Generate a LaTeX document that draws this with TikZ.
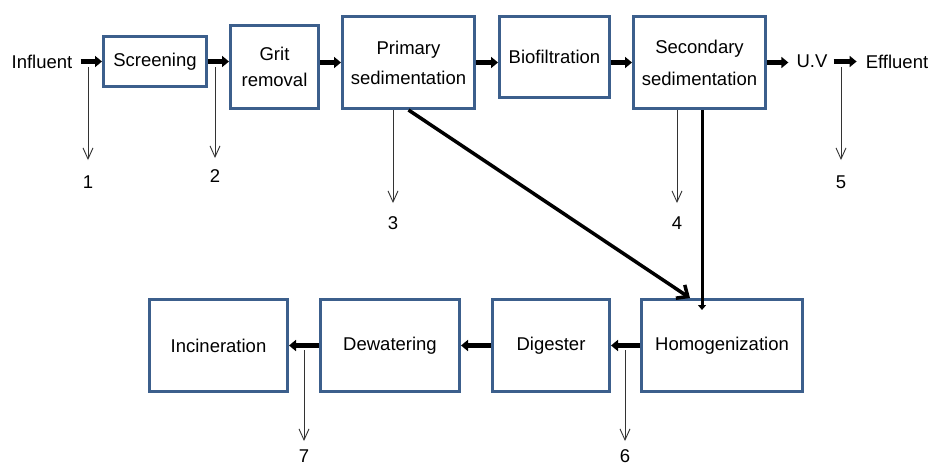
\documentclass[tikz,border=0pt]{standalone}
\usepackage{fontspec}
\setmainfont{Liberation Sans}
\usetikzlibrary{arrows.meta}
\definecolor{boxblue}{RGB}{60,95,140}
\begin{document}
\begin{tikzpicture}[x=1pt,y=-1pt,
  box/.style={draw=boxblue,line width=3pt,fill=white,inner sep=0pt,align=center,
              font=\fontsize{18.5}{30}\selectfont},
  lbl/.style={inner sep=0pt,font=\fontsize{18.5}{22}\selectfont},
  flow/.style={line width=4.5pt,-{Triangle[length=7pt,width=11pt]}},
  waste/.style={draw=black!80,line width=0.9pt,-{Straight Barb[length=11pt,width=10pt]}},
  sludge/.style={line width=3.5pt,-{Straight Barb[length=9pt,width=16pt,line width=3.5pt]}},
]
\useasboundingbox (0,0) rectangle (929,466);
\clip (0,0) rectangle (929,466);
\fill[white] (0,0) rectangle (929,466);

% boxes
\node[box,minimum width=103pt,minimum height=50pt] (Screening) at (155,61.5) {Screening};
\node[box,minimum width=88pt,minimum height=83pt,font=\fontsize{18.5}{26}\selectfont] (Grit) at (274.5,67) {Grit\\removal};
\node[box,minimum width=132pt,minimum height=92pt] (Primary) at (408.5,62.5) {Primary\\sedimentation};
\node[box,minimum width=110pt,minimum height=81pt] (Bio) at (554.5,57) {Biofiltration};
\node[box,minimum width=132pt,minimum height=92pt,font=\fontsize{18.5}{32}\selectfont] (Secondary) at (699.5,62.5) {Secondary\\sedimentation};
\node[box,minimum width=161pt,minimum height=92pt] (Homog) at (722,345.5) {Homogenization};
\node[box,minimum width=117pt,minimum height=92pt] (Digester) at (551,345.5) {Digester};
\node[box,minimum width=139pt,minimum height=92pt] (Dewatering) at (390,345.5) {Dewatering};
\node[box,minimum width=138pt,minimum height=92pt] (Incineration) at (218.5,345.5) {Incineration};

% texts
\node[lbl] (Influent) at (42,61.5) {Influent};
\node[lbl] (UV) at (812,61.5) {U.V};
\node[lbl] (Effluent) at (897,61.5) {Effluent};

% main flow
\draw[flow] ([xshift=8pt]Influent.east) -- (Screening.west |- Influent.east);
\draw[flow] (Screening.east) -- (Screening.east -| Grit.west);
\draw[flow] (Grit.east |- Primary.west) -- (Primary.west);
\draw[flow] (Primary.east) -- (Primary.east -| Bio.west);
\draw[flow] (Secondary.west -| Bio.east) -- (Secondary.west);
\draw[flow] (Secondary.east) -- ([xshift=-8pt]Secondary.east -| UV.west);
\draw[flow] ([xshift=6pt]UV.east) -- ([xshift=-9pt]Effluent.west);

% sludge lines
\draw[sludge] (Primary.south) -- ([xshift=-32pt]Homog.north);
\draw[line width=3pt,-{Triangle[length=5pt,width=8pt]}] ([xshift=2.5pt]Secondary.south) -- ([xshift=-20pt,yshift=-12pt]Homog.north);

\draw[flow] (Homog.west) -- (Digester.east);
\draw[flow] (Digester.west) -- (Dewatering.east);
\draw[flow] (Dewatering.west) -- (Incineration.east);

% waste labels
\node[lbl] (n1) at (88,182) {1};
\node[lbl] (n2) at (215,176) {2};
\node[lbl] (n3) at (393,223) {3};
\node[lbl] (n4) at (677,223) {4};
\node[lbl] (n5) at (841,182) {5};
\node[lbl] (n6) at (625,456) {6};
\node[lbl] (n7) at (304,456) {7};

\coordinate (w1) at (88,67);
\coordinate (w2) at (215,67);
\coordinate (w3) at (393,110);
\coordinate (w4) at (677,110);
\coordinate (w5) at (841,67);
\coordinate (w6) at (625,350);
\coordinate (w7) at (304,350);

\draw[waste] (w1) -- (w1 |- 0,160);
\draw[waste] (w2) -- (w2 |- 0,158);
\draw[waste] (w3) -- (w3 |- 0,203);
\draw[waste] (w4) -- (w4 |- 0,203);
\draw[waste] (w5) -- (w5 |- 0,160);
\draw[waste] (w6) -- (w6 |- 0,441);
\draw[waste] (w7) -- (w7 |- 0,441);
\end{tikzpicture}
\end{document}
